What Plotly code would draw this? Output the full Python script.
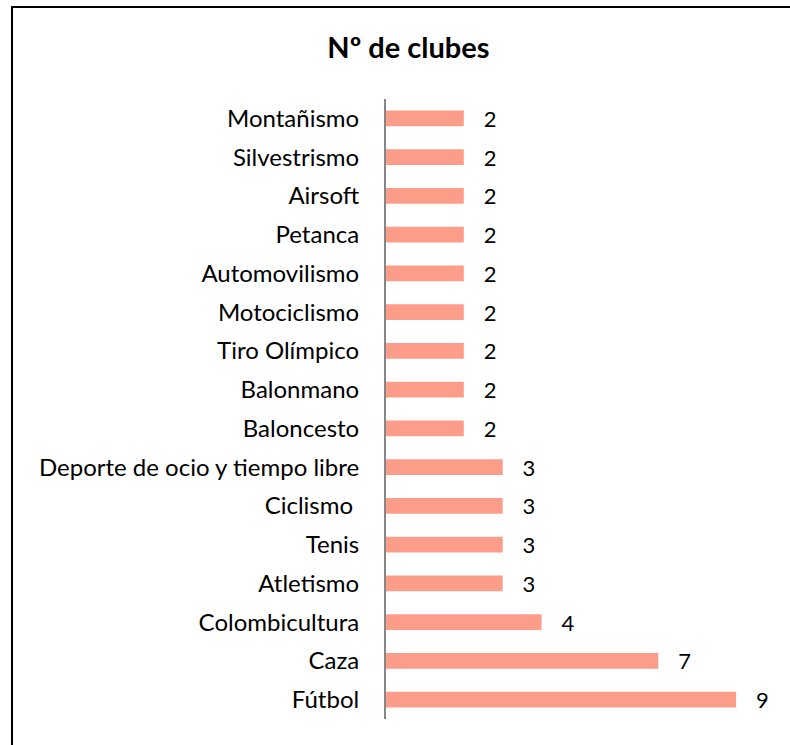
import plotly.graph_objects as go

# datos (de abajo hacia arriba)
deportes = ["Fútbol", "Caza", "Colombicultura", "Atletismo", "Tenis", "Ciclismo ",
            "Deporte de ocio y tiempo libre", "Baloncesto", "Balonmano", "Tiro Olímpico",
            "Motociclismo", "Automovilismo", "Petanca", "Airsoft", "Silvestrismo", "Montañismo"]
clubes = [9, 7, 4, 3, 3, 3, 3, 2, 2, 2, 2, 2, 2, 2, 2, 2]

W, H = 790, 745
ml, mr, mt, mb = 386, 15, 99, 26
pw, ph = W - ml - mr, H - mt - mb

fig = go.Figure()
fig.add_trace(go.Bar(
    x=clubes, y=deportes, orientation="h",
    marker=dict(color="#FB9D89", line=dict(width=0)),
    text=clubes, texttemplate="   %{x}", textposition="outside",
    constraintext="none",
    textfont=dict(family="Lato", size=22, color="#000000"),
    cliponaxis=False, hoverinfo="x+y",
))

# marco del gráfico
fig.add_shape(type="rect", xref="paper", yref="paper",
              x0=(12 - ml) / pw, x1=(W + 10 - ml) / pw,
              y0=-(10 + mb) / ph, y1=(H - mb - 7) / ph,
              line=dict(color="#000000", width=2), fillcolor="rgba(0,0,0,0)")

fig.update_layout(
    width=W, height=H,
    margin=dict(l=ml, r=mr, t=mt, b=mb),
    paper_bgcolor="white", plot_bgcolor="white",
    bargap=0.59, showlegend=False,
    title=dict(text="<b>Nº de clubes</b>", x=0.517, xanchor="center",
               y=1 - 48 / H, yanchor="middle",
               font=dict(family="Lato", size=29, color="#000000")),
    xaxis=dict(range=[0, 10], visible=False),
    yaxis=dict(range=[-0.5, len(deportes) - 0.5], showline=True, linecolor="#868686",
               linewidth=2, showgrid=False, ticks="", ticklabelstandoff=20,
               tickfont=dict(family="Lato", size=24, color="#000000")),
)

fig.write_html("out.html", config={"displayModeBar": False},
               post_script="document.body.style.margin = '0';")
